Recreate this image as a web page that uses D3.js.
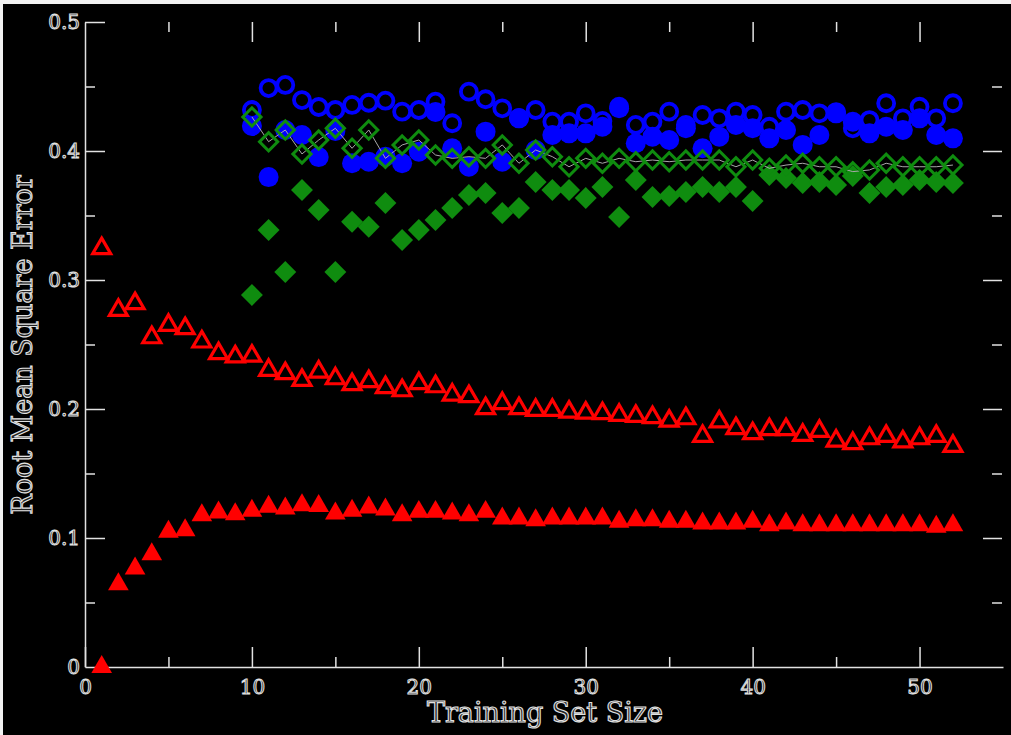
<!DOCTYPE html>
<html>
<head>
<meta charset="utf-8">
<script src="https://cdn.jsdelivr.net/npm/d3@7"></script>
<style>
  html, body { margin: 0; padding: 0; background: #000; }
  svg { display: block; }
</style>
</head>
<body>
<div id="chart"></div>
<script>
// training set sizes (x values)
const sizes = [1,2,3,4,5,6,7,8,9,10,11,12,13,14,15,16,17,18,19,20,21,22,23,24,25,26,
               27,28,29,30,31,32,33,34,35,36,37,38,39,40,41,42,43,44,45,46,47,48,49,50,51,52];
const sizesFrom10 = sizes.slice(9);

// red triangles, n = 1..52
const redFilled = [0.000,0.0642,0.0764,0.0874,0.1048,0.1060,0.1177,0.1198,0.1184,0.1211,
  0.1242,0.1229,0.1254,0.1248,0.1190,0.1211,0.1236,0.1221,0.1177,0.1203,0.1203,0.1190,
  0.1177,0.1203,0.1151,0.1151,0.1138,0.1151,0.1151,0.1151,0.1151,0.1126,0.1138,0.1138,
  0.1126,0.1126,0.1112,0.1112,0.1112,0.1126,0.1099,0.1112,0.1099,0.1099,0.1099,0.1099,
  0.1099,0.1099,0.1099,0.1099,0.1087,0.1099];
const redOpen = [0.3244,0.2766,0.2818,0.2554,0.2650,0.2624,0.2521,0.2430,0.2405,0.2411,
  0.2301,0.2275,0.2223,0.2288,0.2236,0.2190,0.2213,0.2167,0.2143,0.2198,0.2174,0.2109,
  0.2097,0.2004,0.2043,0.2004,0.1991,0.1991,0.1977,0.1969,0.1965,0.1952,0.1944,0.1934,
  0.1907,0.1926,0.1789,0.1901,0.1849,0.1810,0.1841,0.1841,0.1797,0.1828,0.1753,0.1733,
  0.1771,0.1789,0.1746,0.1771,0.1789,0.1712];

// blue circles, n = 10..52
const blueOpen = [0.4318,0.4488,0.4512,0.4395,0.4341,0.4318,0.4357,0.4374,0.4390,0.4305,
  0.4318,0.4382,0.4215,0.4460,0.4401,0.4331,0.4256,0.4318,0.4227,0.4227,0.4292,0.4233,
  0.4343,0.4202,0.4227,0.4305,0.4202,0.4279,0.4253,0.4305,0.4279,0.4188,0.4305,0.4318,
  0.4292,0.4302,0.4176,0.4240,0.4370,0.4253,0.4343,0.4253,0.4370];
const blueFilled = [0.4194,0.3798,0.4163,0.4124,0.3953,0.4155,0.3905,0.3917,0.3956,0.3905,
  0.3995,0.4302,0.4021,0.3878,0.4150,0.3917,0.4253,0.4008,0.4124,0.4137,0.4137,0.4188,
  0.4331,0.4060,0.4111,0.4085,0.4176,0.4021,0.4111,0.4202,0.4176,0.4098,0.4163,0.4047,
  0.4124,0.4292,0.4227,0.4137,0.4188,0.4163,0.4253,0.4124,0.4098];

// green diamonds, n = 10..52
const greenOpen = [0.4264,0.4072,0.4163,0.3977,0.4085,0.4176,0.4021,0.4163,0.3943,0.4047,
  0.4085,0.3969,0.3943,0.3956,0.3943,0.4047,0.3905,0.4008,0.3956,0.3878,0.3943,0.3905,
  0.3943,0.3917,0.3930,0.3917,0.3930,0.3930,0.3930,0.3878,0.3930,0.3866,0.3891,0.3905,
  0.3878,0.3878,0.3840,0.3853,0.3905,0.3878,0.3878,0.3878,0.3891];
const greenFilled = [0.2884,0.3388,0.3062,0.3698,0.3543,0.3062,0.3452,0.3413,0.3597,0.3310,
  0.3388,0.3465,0.3558,0.3659,0.3674,0.3519,0.3558,0.3760,0.3698,0.3698,0.3636,0.3721,
  0.3488,0.3775,0.3643,0.3651,0.3682,0.3721,0.3682,0.3721,0.3612,0.3814,0.3791,0.3752,
  0.3760,0.3736,0.3806,0.3674,0.3721,0.3736,0.3775,0.3760,0.3752];

const xMajor = [0,10,20,30,40,50];
const xMinor = [5,15,25,35,45];
const yMajor = [0,0.1,0.2,0.3,0.4,0.5];
const yMinor = [0.05,0.15,0.25,0.35,0.45];
const yLabels = ["0","0.1","0.2","0.3","0.4","0.5"];

const width = 1011, height = 735;
const ink = "#e2e2e2";
const RED = "#ff0000", BLUE = "#0000ff", GREEN = "#0f8c0f";

const svg = d3.select("#chart").append("svg")
    .attr("width", width).attr("height", height);

svg.append("rect").attr("width", width).attr("height", height).attr("fill", "#000");
// light frame strips on top and left edge
svg.append("rect").attr("width", width).attr("height", 4).attr("fill", "#f2f2f2");
svg.append("rect").attr("width", 3).attr("height", height).attr("fill", "#f2f2f2");

const x = d3.scaleLinear().domain([0, 55]).range([85, 1003]);
const y = d3.scaleLinear().domain([0, 0.5]).range([667, 22]);

const styleAxis = g => {
  g.selectAll("line").attr("stroke", ink).attr("stroke-width", 1.5);
  g.selectAll("path.domain").attr("stroke", ink).attr("stroke-width", 1.5);
  g.selectAll("text")
    .attr("font-family", "'DejaVu Serif', serif")
    .attr("font-size", 20)
    .attr("fill", "#222")
    .attr("stroke", ink)
    .attr("stroke-width", 1);
};

// bottom axis
svg.append("g").attr("transform", `translate(0,${y(0)})`)
  .call(d3.axisBottom(x).tickValues(xMajor).tickSize(-20).tickSizeOuter(0)
        .tickPadding(13).tickFormat(d3.format("d")))
  .call(styleAxis);
svg.append("g").attr("transform", `translate(0,${y(0)})`)
  .call(d3.axisBottom(x).tickValues(xMinor).tickSize(-10).tickFormat(""))
  .call(g => g.select(".domain").remove())
  .call(styleAxis);

// top ticks
svg.append("g").attr("transform", `translate(0,${y(0.5)})`)
  .call(d3.axisTop(x).tickValues(xMajor.slice(1)).tickSize(-20).tickFormat(""))
  .call(g => g.select(".domain").remove())
  .call(styleAxis);
svg.append("g").attr("transform", `translate(0,${y(0.5)})`)
  .call(d3.axisTop(x).tickValues(xMinor).tickSize(-10).tickFormat(""))
  .call(g => g.select(".domain").remove())
  .call(styleAxis);

// left axis
svg.append("g").attr("transform", `translate(${x(0)},0)`)
  .call(d3.axisLeft(y).tickValues(yMajor).tickSize(-20).tickSizeOuter(0)
        .tickPadding(5).tickFormat((d, i) => yLabels[i]))
  .call(g => g.selectAll(".tick").filter(d => d === 0).select("line").remove())
  .call(styleAxis);
svg.append("g").attr("transform", `translate(${x(0)},0)`)
  .call(d3.axisLeft(y).tickValues(yMinor).tickSize(-10).tickFormat(""))
  .call(g => g.select(".domain").remove())
  .call(styleAxis);

// right ticks
svg.append("g").attr("transform", `translate(${x(55) - 1},0)`)
  .call(d3.axisRight(y).tickValues(yMajor.slice(1, 5)).tickSize(-19).tickFormat(""))
  .call(g => g.select(".domain").remove())
  .call(styleAxis);
svg.append("g").attr("transform", `translate(${x(55) - 1},0)`)
  .call(d3.axisRight(y).tickValues(yMinor).tickSize(-10).tickFormat(""))
  .call(g => g.select(".domain").remove())
  .call(styleAxis);

// axis titles
const titleStyle = t => t
  .attr("font-family", "'DejaVu Serif', serif")
  .attr("font-size", 27)
  .attr("fill", "#222")
  .attr("stroke", ink)
  .attr("stroke-width", 1.1)
  .attr("text-anchor", "middle");

svg.append("text").attr("x", 545).attr("y", 722).text("Training Set Size").call(titleStyle);
svg.append("text").attr("transform", "translate(32,345) rotate(-90)")
  .text("Root Mean Square Error").call(titleStyle);

// markers
const plot = svg.append("g");

const toPts = (xs, ys) => ys.map((v, i) => [xs[i], v]);

function circles(data, color, filled) {
  plot.append("g").selectAll("circle").data(data).join("circle")
    .attr("cx", d => x(d[0])).attr("cy", d => y(d[1]))
    .attr("r", filled ? 10 : 8)
    .attr("fill", filled ? color : "none")
    .attr("stroke", color)
    .attr("stroke-width", filled ? 0 : 3.8);
}

function diamonds(data, color, filled) {
  const sym = d3.symbol(d3.symbolSquare, filled ? 240 : 165);
  plot.append("g").selectAll("path").data(data).join("path")
    .attr("d", sym)
    .attr("transform", d => `translate(${x(d[0])},${y(d[1])}) rotate(45)`)
    .attr("fill", filled ? color : "none")
    .attr("stroke", color)
    .attr("stroke-width", filled ? 0 : 3);
}

function triangles(data, color, filled) {
  const sym = d3.symbol(d3.symbolTriangle, filled ? 185 : 140);
  plot.append("g").selectAll("path").data(data).join("path")
    .attr("d", sym)
    .attr("transform", d => `translate(${x(d[0])},${y(d[1])})`)
    .attr("fill", filled ? color : "none")
    .attr("stroke", color)
    .attr("stroke-width", filled ? 0 : 3.2)
    .attr("stroke-linejoin", "miter");
}

circles(toPts(sizesFrom10, blueOpen), BLUE, false);
circles(toPts(sizesFrom10, blueFilled), BLUE, true);
diamonds(toPts(sizesFrom10, greenFilled), GREEN, true);

plot.append("path")
  .datum(toPts(sizesFrom10, greenOpen))
  .attr("fill", "none")
  .attr("stroke", "#a8a8a8")
  .attr("stroke-width", 1)
  .attr("d", d3.line().x(d => x(d[0])).y(d => y(d[1])));

diamonds(toPts(sizesFrom10, greenOpen), GREEN, false);
triangles(toPts(sizes, redOpen), RED, false);
triangles(toPts(sizes, redFilled), RED, true);
</script>
</body>
</html>
